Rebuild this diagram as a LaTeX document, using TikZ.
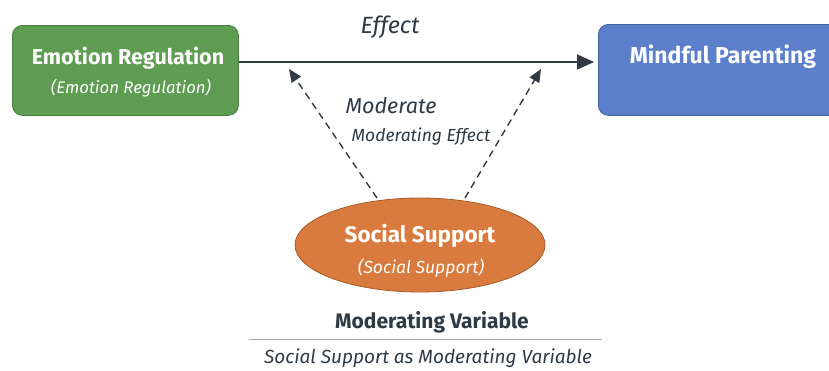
\documentclass[tikz,border=0pt]{standalone}
\usepackage{fontspec}
\setmainfont{Fira Sans}
\usetikzlibrary{arrows.meta,shapes.geometric}
\definecolor{grn}{HTML}{5E9C52}
\definecolor{grnd}{HTML}{4A7F40}
\definecolor{blu}{HTML}{5B7FCB}
\definecolor{blud}{HTML}{40609F}
\definecolor{org}{HTML}{D97B3E}
\definecolor{orgd}{HTML}{A95A28}
\definecolor{ink}{HTML}{2F3A45}
\tikzset{
  box/.style={rounded corners=10pt, line width=0.8pt},
  title/.style={text=white, font=\bfseries\fontsize{21.5}{23}\selectfont, inner sep=0pt},
  sub/.style={text=white, font=\itshape\fontsize{16.8}{18}\selectfont, inner sep=0pt},
  lbl/.style={text=ink, inner sep=0pt},
  mainarrow/.style={draw=ink, line width=1.8pt, -{Triangle[length=17pt,width=15pt]}},
  modarrow/.style={draw=ink, line width=1.4pt, dash pattern=on 7pt off 5pt, -{Triangle[length=13pt,width=11pt]}}
}
\begin{document}
\begin{tikzpicture}[x=1pt,y=-1pt]
\useasboundingbox[fill=white] (0,0) rectangle (829,370);
% boxes
\node[box, draw=grnd, fill=grn, minimum width=226pt, minimum height=90pt, anchor=north west] (er) at (12,25) {};
\node[box, draw=blud, fill=blu, minimum width=250pt, minimum height=91pt, anchor=north west] (mp) at (598,24) {};
\node[ellipse, draw=orgd, fill=org, line width=0.8pt, minimum width=250pt, minimum height=94pt] (ss) at (420,245) {};
% texts in shapes
\node[title] (ert) at (128,58) {Emotion Regulation};
\node[sub] (ers) at (131,88) {(Emotion Regulation)};
\node[title, font=\bfseries\fontsize{23}{25}\selectfont] (mpt) at (723,57) {Mindful Parenting};
\node[title, font=\bfseries\fontsize{22.5}{24}\selectfont] (sst) at (420,236) {Social Support};
\node[sub, font=\itshape\fontsize{17.5}{19}\selectfont] (sss) at (421,268) {(Social Support)};
% arrows
\coordinate (mpin) at (594,62);
\draw[mainarrow] (er.east |- mpin) -- (mpin);
\coordinate (lt) at (289,69);
\coordinate (rt) at (541,69);
\coordinate (lb) at (377,198);
\coordinate (rb) at (465,198);
\draw[modarrow] (lb) -- (lt);
\draw[modarrow] (rb) -- (rt);
% labels
\node[lbl, font=\itshape\fontsize{23.5}{25}\selectfont] (eff) at (390,27) {Effect};
\node[lbl, font=\itshape\fontsize{21.5}{23}\selectfont] (mod) at (391,106) {Moderate};
\node[lbl, font=\itshape\fontsize{17.5}{19}\selectfont] (mode) at (421,137) {Moderating Effect};
\node[lbl, font=\bfseries\fontsize{21}{23}\selectfont] (mv) at (432,322) {Moderating Variable};
\coordinate (l1) at (249,339);
\coordinate (l2) at (602,339);
\draw[draw=gray!70, line width=1pt] (l1) -- (l2);
\node[lbl, font=\itshape\fontsize{19}{21}\selectfont] (ssmv) at (428,358) {Social Support as Moderating Variable};
\end{tikzpicture}
\end{document}
